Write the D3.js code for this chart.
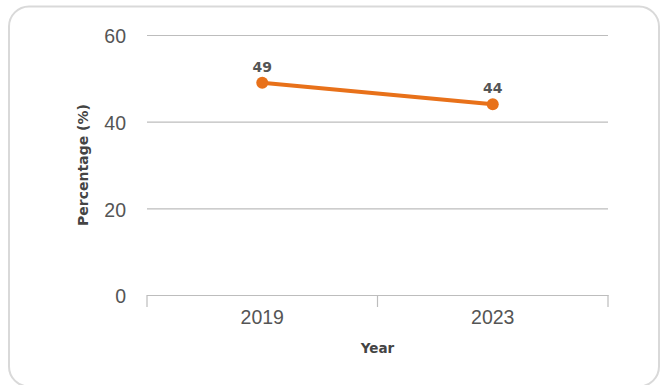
<!DOCTYPE html>
<html>
<head>
<meta charset="utf-8">
<script src="https://cdn.jsdelivr.net/npm/d3@7"></script>
<style>
  body { margin: 0; background: #fff; }
  svg { display: block; font-family: "DejaVu Sans", sans-serif; }
  .tick text { font-family: "Liberation Sans", Arial, sans-serif; }
</style>
</head>
<body>
<script>
// data
const years = ['2019', '2023'];
const values = [49, 44];
const yTicks = [0, 20, 40, 60];

const w = 660, h = 385;
const m = { left: 147, right: 52, top: 35, bottom: 90 };

const svg = d3.select('body').append('svg')
  .attr('width', w)
  .attr('height', h);

// card frame
svg.append('rect')
  .attr('x', 9).attr('y', 6.5)
  .attr('width', 650).attr('height', 380)
  .attr('rx', 20)
  .attr('fill', '#fff')
  .attr('stroke', '#d9d9d9')
  .attr('stroke-width', 2);

const x = d3.scaleBand()
  .domain(years)
  .range([m.left, w - m.right]);

const y = d3.scaleLinear()
  .domain([0, 60])
  .range([h - m.bottom, m.top]);

// grid + y labels
const yAxis = svg.append('g')
  .attr('transform', 'translate(' + m.left + ',0)')
  .call(d3.axisLeft(y).tickValues(yTicks).tickSize(-(w - m.left - m.right)).tickPadding(21));
yAxis.select('.domain').remove();
yAxis.selectAll('.tick line').attr('stroke', '#bdbdbd').attr('stroke-width', 1.2);
yAxis.selectAll('.tick text')
  .attr('fill', '#555').attr('dy', '0.4em').style('font-size', '19.5px');

// x axis
const xAxis = svg.append('g')
  .attr('transform', 'translate(0,' + (h - m.bottom) + ')')
  .call(d3.axisBottom(x).tickSize(0).tickPadding(15));
xAxis.select('.domain').attr('stroke', '#bdbdbd').attr('stroke-width', 1.2);
xAxis.selectAll('.tick text').attr('fill', '#555').style('font-size', '19.5px');

// tick marks at band edges
const edges = [m.left, (m.left + w - m.right) / 2, w - m.right];
svg.append('g').selectAll('line')
  .data(edges)
  .enter().append('line')
  .attr('x1', d => d).attr('x2', d => d)
  .attr('y1', h - m.bottom).attr('y2', h - m.bottom + 12)
  .attr('stroke', '#bdbdbd').attr('stroke-width', 1.2);

// axis titles
svg.append('text')
  .attr('x', (m.left + w - m.right) / 2)
  .attr('y', 353)
  .attr('text-anchor', 'middle')
  .attr('fill', '#444')
  .style('font-size', '13.5px').style('font-weight', 'bold')
  .text('Year');

svg.append('text')
  .attr('transform', 'translate(88,' + y(30) + ') rotate(-90)')
  .attr('text-anchor', 'middle')
  .attr('fill', '#444')
  .style('font-size', '14px').style('font-weight', 'bold')
  .text('Percentage (%)');

// line
const pts = years.map((d, i) => ({ year: d, v: values[i] }));
const cx = d => x(d.year) + x.bandwidth() / 2;

svg.append('path')
  .datum(pts)
  .attr('fill', 'none')
  .attr('stroke', '#e8711a')
  .attr('stroke-width', 4)
  .attr('d', d3.line().x(cx).y(d => y(d.v)));

svg.selectAll('circle.pt')
  .data(pts)
  .enter().append('circle')
  .attr('class', 'pt')
  .attr('cx', cx)
  .attr('cy', d => y(d.v))
  .attr('r', 6)
  .attr('fill', '#e8711a');

svg.selectAll('text.lbl')
  .data(pts)
  .enter().append('text')
  .attr('class', 'lbl')
  .attr('x', cx)
  .attr('y', d => y(d.v) - 11)
  .attr('text-anchor', 'middle')
  .attr('fill', '#555')
  .style('font-size', '14px').style('font-weight', 'bold')
  .text(d => d.v);
</script>
</body>
</html>
